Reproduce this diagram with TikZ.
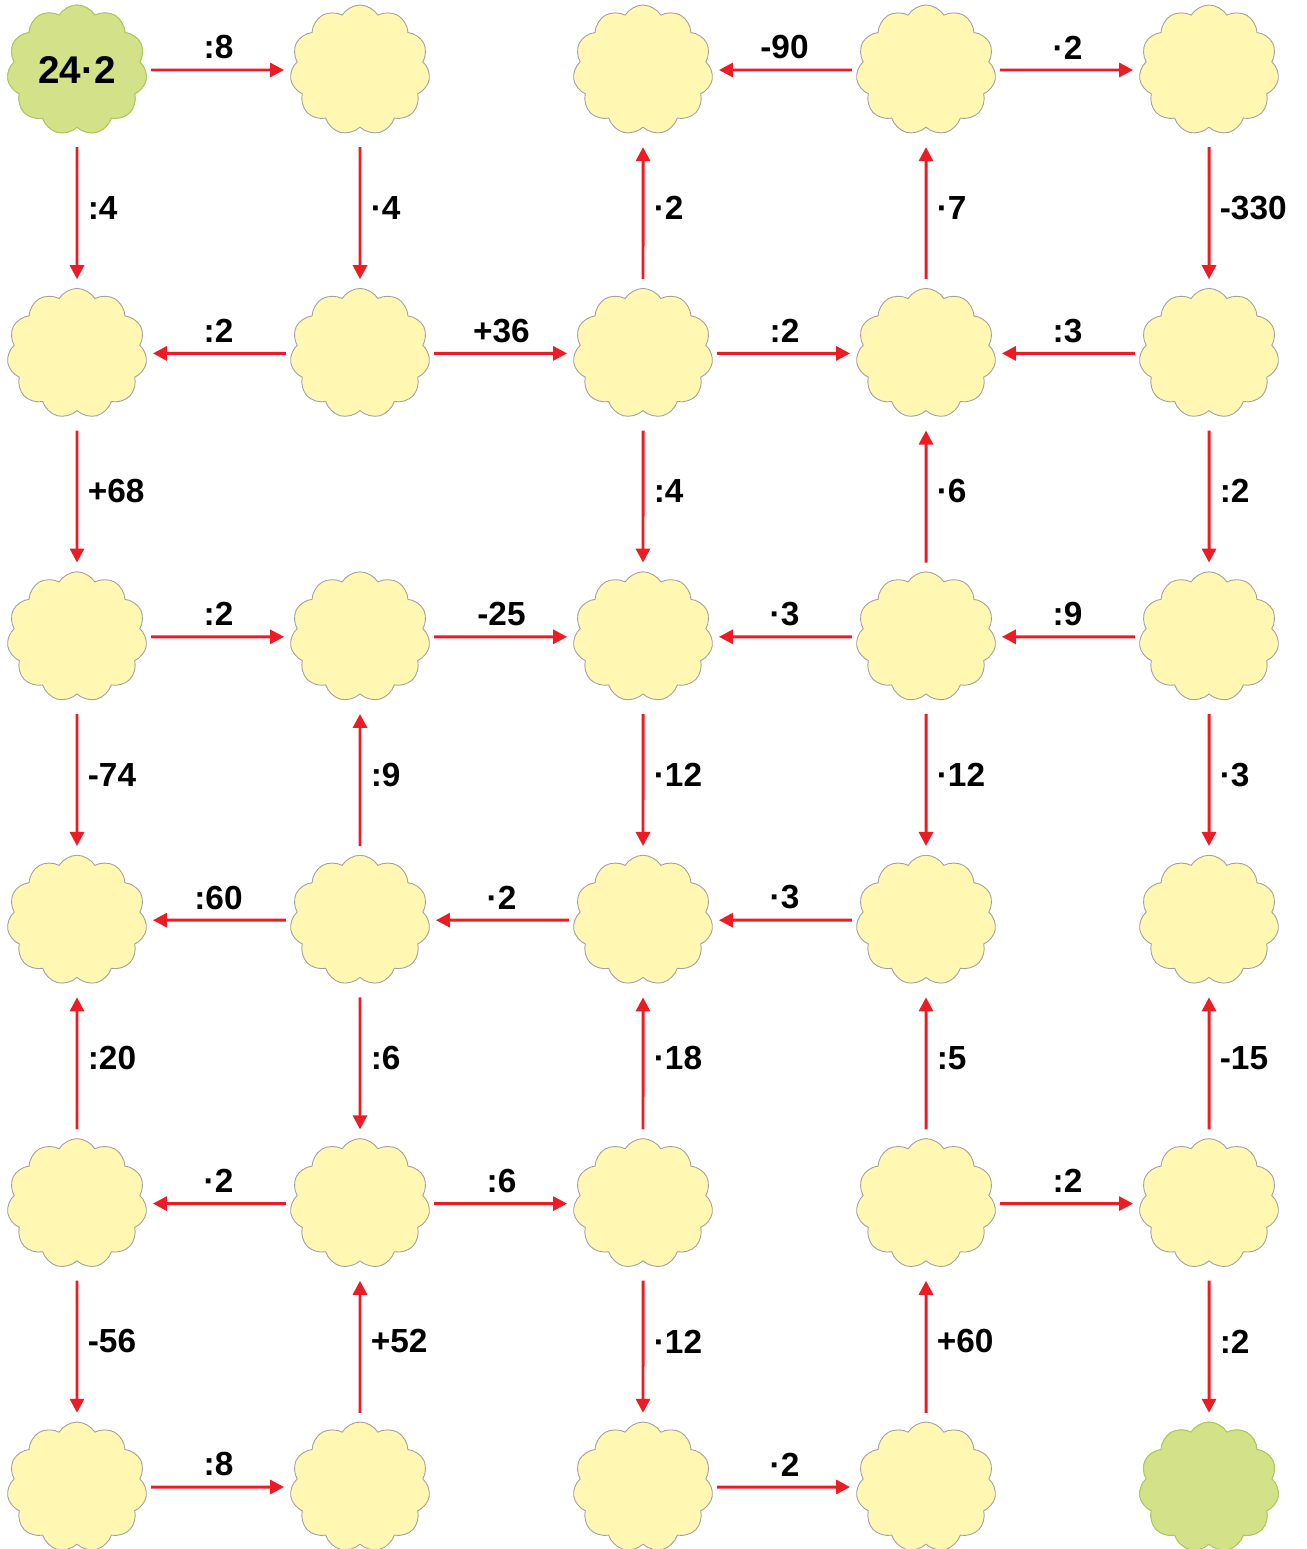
\documentclass[tikz,border=0pt]{standalone}
\usepackage{fontspec}
\setmainfont{Liberation Sans}
\usetikzlibrary{shapes.symbols,arrows.meta}
\definecolor{cloudFill}{HTML}{FFF7B2}
\definecolor{cloudLine}{HTML}{A0A0A0}
\definecolor{startFill}{HTML}{D3E288}
\definecolor{startLine}{HTML}{A9CB4F}
\definecolor{arrowRed}{HTML}{ED1C24}

\begin{document}
\begin{tikzpicture}[x=0.02cm, y=-0.02cm,
    every node/.style={font=\bfseries\fontsize{19}{22}\selectfont},
    puff/.style={cloud, cloud puffs=11, cloud puff arc=118, cloud ignores aspect,
      minimum width=2.8cm, minimum height=2.6cm, inner sep=0pt,
      draw=cloudLine, fill=cloudFill, line width=0.5pt},
    start/.style={puff, draw=startLine, fill=startFill, font=\bfseries\fontsize{22}{26}\selectfont},
    go/.style={draw=arrowRed, line width=1.7pt, -{Triangle[length=8pt,width=8pt]}},
    side/.style={go, shorten <=3pt, shorten >=4pt},
    dn/.style={go, shorten <=11pt, shorten >=5pt},
    upw/.style={go, shorten <=5pt, shorten >=11pt}]
  \useasboundingbox (0,0) rectangle (1307,1549);
  % the clouds, row by row
  \foreach \r in {1,...,6}
    \foreach \c in {1,...,5}
      \node[puff] (c\r\c) at ({77+283*(\c-1)},{70+283.4*(\r-1)}) {};
  \node[start] (c11) at (c11) {24·2};
  \node[start] (c65) at (c65) {};
  % steps along a row
  \foreach \a/\b/\lab in {c11/c12/:8, c14/c13/-90, c14/c15/·2,
      c22/c21/:2, c22/c23/+36, c23/c24/:2, c25/c24/:3,
      c31/c32/:2, c32/c33/-25, c34/c33/·3, c35/c34/:9,
      c42/c41/:60, c43/c42/·2, c44/c43/·3,
      c52/c51/·2, c52/c53/:6, c54/c55/:2,
      c61/c62/:8, c63/c64/·2}
    \draw[side] (\a) -- (\b) node[midway, above=2pt] {\lab};
  % steps along a column
  \foreach \a/\b/\lab/\how in {c11/c21/:4/dn, c12/c22/·4/dn, c23/c13/·2/upw,
      c24/c14/·7/upw, c15/c25/-330/dn,
      c21/c31/+68/dn, c23/c33/:4/dn, c34/c24/·6/upw, c25/c35/:2/dn,
      c31/c41/-74/dn, c42/c32/:9/upw, c33/c43/·12/dn, c34/c44/·12/dn, c35/c45/·3/dn,
      c51/c41/:20/upw, c42/c52/:6/dn, c53/c43/·18/upw, c54/c44/:5/upw, c55/c45/-15/upw,
      c51/c61/-56/dn, c62/c52/+52/upw, c53/c63/·12/dn, c64/c54/+60/upw, c55/c65/:2/dn}
    \draw[\how] (\a) -- (\b) node[midway, right=2pt] {\lab};
\end{tikzpicture}
\end{document}
